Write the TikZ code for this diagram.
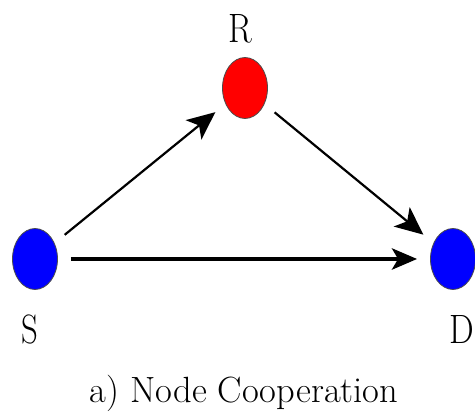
\documentclass[tikz,border=0pt]{standalone}
\usetikzlibrary{arrows.meta,shapes.geometric}
\begin{document}
\begin{tikzpicture}[x=1pt,y=-1pt,
  vertex/.style={ellipse,draw=black!70,line width=0.8pt,minimum width=45pt,minimum height=61pt,inner sep=0pt},
  lbl/.style={anchor=base,inner sep=0pt,font=\fontsize{41}{41}\selectfont},
  link/.style={line width=2.2pt,shorten <=13pt,shorten >=13pt,-{Stealth[length=28pt,width=25pt,inset=7pt]}},
  thicklink/.style={link,line width=4.5pt,-{Stealth[length=25pt,width=21pt,inset=6pt]}}]
\useasboundingbox (0,0) rectangle (475,414);
\node[vertex,fill=blue] (S) at (35,259) {};
\node[vertex,fill=red] (R) at (245,88) {};
\node[vertex,fill=blue] (D) at (453,259) {};
\node[lbl] (Sl) at (30,344) {\scalebox{0.8}[1]{S}};
\node[lbl] (Rl) at (240,43) {\scalebox{0.85}[1]{R}};
\node[lbl] (Dl) at (462,344) {\scalebox{0.85}[1]{D}};
\node[anchor=base,inner sep=0pt,font=\fontsize{36.5}{36.5}\selectfont] (cap) at (244,403) {a) Node Cooperation};
\draw[link] (S) -- (R);
\draw[link] (R) -- (D);
\draw[thicklink] (S) -- (D);
\end{tikzpicture}
\end{document}
